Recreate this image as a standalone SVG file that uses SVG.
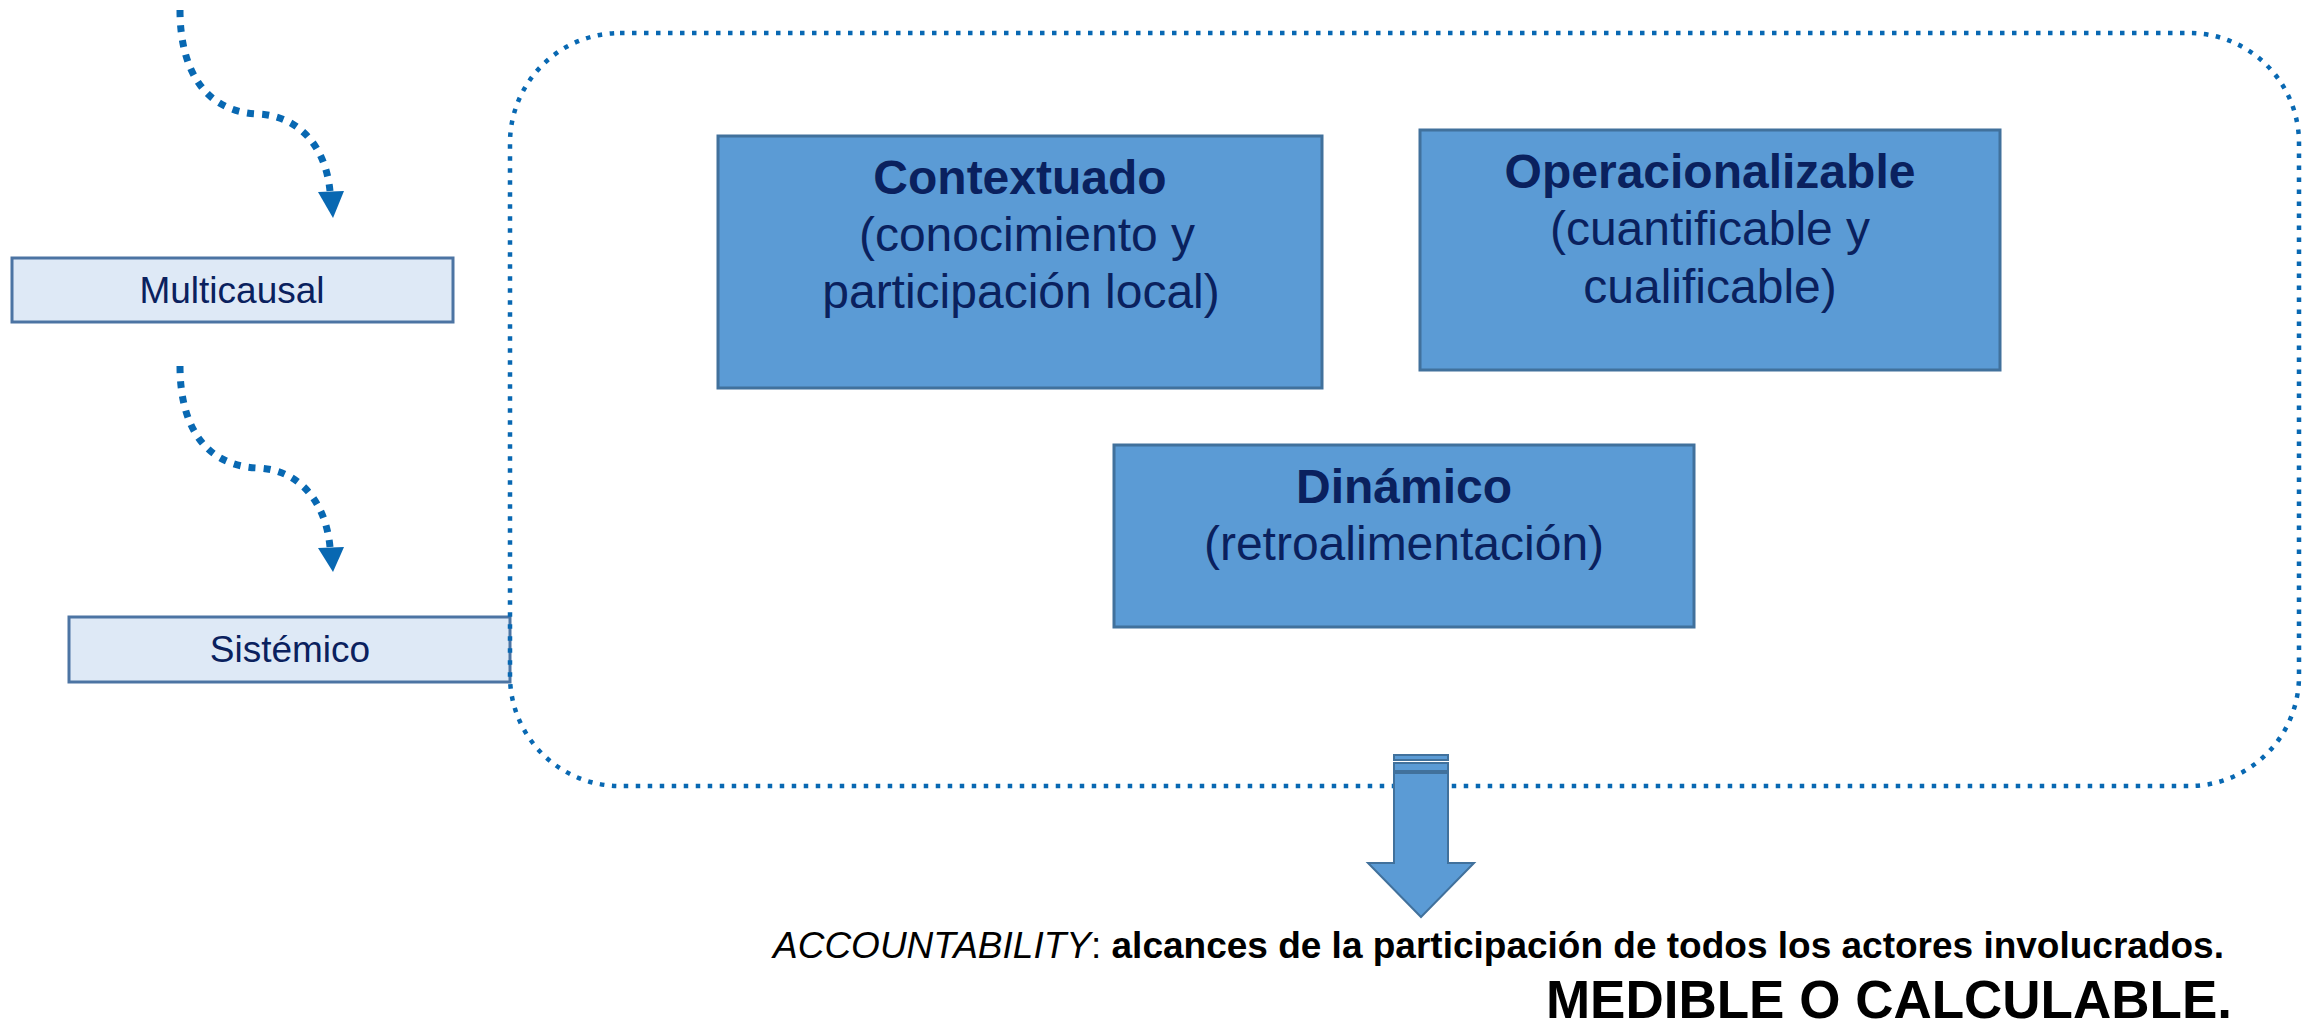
<svg xmlns="http://www.w3.org/2000/svg" width="2308" height="1022" viewBox="0 0 2308 1022">
<style>
.bg{fill:#ffffff}
.small{fill:#DEE9F6;stroke:#4C74A3;stroke-width:3}
.big{fill:#5B9BD5;stroke:#41719C;stroke-width:3}
.lbl{font-family:"Liberation Sans",Arial,sans-serif;fill:#0A215E;text-anchor:middle}
.t36{font-size:37px}
.t48{font-size:48px}
.b{font-weight:bold}
.dot{fill:none;stroke:#0868B2;stroke-width:7;stroke-dasharray:7 8}
.frame{fill:none;stroke:#0868B2;stroke-width:4.5;stroke-dasharray:4.5 7.5}
.head{fill:#0868B2}
.blk{fill:#5B9BD5;stroke:#41719C;stroke-width:2}
.foot{font-family:"Liberation Sans",Arial,sans-serif;fill:#000000}
</style>
<rect class="bg" x="0" y="0" width="2308" height="1022"/>

<g id="node-multicausal">
<rect class="small" x="12" y="258" width="441" height="64"/>
<text class="lbl t36" x="232" y="303">Multicausal</text>
</g>

<g id="node-sistemico">
<rect class="small" x="69" y="617" width="441" height="65"/>
<text class="lbl t36" x="290" y="662">Sistémico</text>
</g>

<g id="node-frame">
<rect class="frame" x="510" y="33" width="1789" height="753" rx="110" ry="110"/>
</g>

<g id="node-contextuado">
<rect class="big" x="718" y="136" width="604" height="252"/>
<text class="lbl t48 b" x="1020" y="194">Contextuado</text>
<text class="lbl t48" x="1027" y="251">(conocimiento y</text>
<text class="lbl t48" x="1021" y="308">participación local)</text>
</g>

<g id="node-operacionalizable">
<rect class="big" x="1420" y="130" width="580" height="240"/>
<text class="lbl t48 b" x="1710" y="188">Operacionalizable</text>
<text class="lbl t48" x="1710" y="245">(cuantificable y</text>
<text class="lbl t48" x="1710" y="303">cualificable)</text>
</g>

<g id="node-dinamico">
<rect class="big" x="1114" y="445" width="580" height="182"/>
<text class="lbl t48 b" x="1404" y="503">Dinámico</text>
<text class="lbl t48" x="1404" y="560">(retroalimentación)</text>
</g>

<g id="connectors">
<path class="dot" d="M180,10 C180,70 205,112 258,114 C302,116 326,150 330,191"/>
<polygon class="head" points="318,192 344,191 333,218"/>
<path class="dot" d="M180,366 C180,426 205,466 258,468 C302,470 326,505 330,547"/>
<polygon class="head" points="318,548 344,547 333,572"/>
<g id="block-arrow">
<rect class="blk" x="1394" y="755" width="54" height="5" fill="#4A7DB0"/>
<rect class="blk" x="1394" y="763" width="54" height="8"/>
<path class="blk" d="M1394,773 L1448,773 L1448,863 L1474,863 L1421,917 L1368,863 L1394,863 Z"/>
</g>
</g>

<g id="node-footer">
<text class="foot" x="773" y="958" font-size="37"><tspan font-style="italic">ACCOUNTABILITY</tspan>:<tspan font-weight="bold"> alcances de la participación de todos los actores involucrados.</tspan></text>
<text class="foot" x="2232" y="1018" font-size="53" font-weight="bold" text-anchor="end">MEDIBLE O CALCULABLE.</text>
</g>
</svg>
